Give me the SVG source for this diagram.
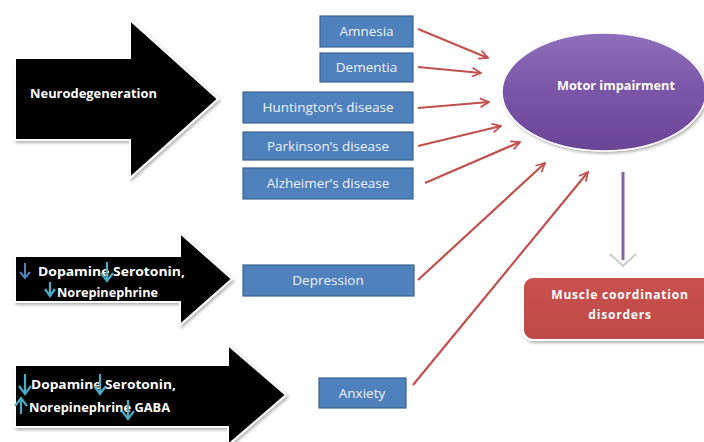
<svg xmlns="http://www.w3.org/2000/svg" width="704" height="442" viewBox="0 0 704 442">
<style>
.bigarrow{fill:#000;stroke:#fff;stroke-width:2;filter:url(#sh)}
.box{fill:#4f81bd;stroke:#3a6391;stroke-width:1.2}
.boxt{font-family:"Open Sans","Liberation Sans",Arial,sans-serif;font-size:13.5px;fill:#eef3fa;text-anchor:middle}
.wt{font-family:"Open Sans","Liberation Sans",Arial,sans-serif;font-weight:bold;fill:#fff}
.conn{stroke:#c0504d;stroke-width:2.2;fill:none;marker-end:url(#ah)}
</style>
<defs>
<marker id="ah" viewBox="0 0 10 10" refX="9" refY="5" markerWidth="5" markerHeight="5" orient="auto" markerUnits="strokeWidth">
<path d="M1,1 L9,5 L1,9" fill="none" stroke="#c0504d" stroke-width="1.6"/>
</marker>
<filter id="sh" x="-10%" y="-10%" width="130%" height="130%">
<feDropShadow dx="1.5" dy="2" stdDeviation="1.5" flood-color="#000" flood-opacity="0.3"/>
</filter>
<linearGradient id="pg" x1="0" y1="0" x2="0" y2="1">
<stop offset="0" stop-color="#8f6fbb"/>
<stop offset="0.5" stop-color="#7a55a8"/>
<stop offset="1" stop-color="#6a4496"/>
</linearGradient>
<linearGradient id="rg" x1="0" y1="0" x2="0" y2="1">
<stop offset="0" stop-color="#c9514f"/>
<stop offset="1" stop-color="#bd4a47"/>
</linearGradient>
</defs>

<g id="neurodegeneration">
<polygon class="bigarrow" points="15,58 130,58 130,20 218,99 130,178 130,140 15,140"/>
<text class="wt" x="30" y="98" font-size="11.5" textLength="127" lengthAdjust="spacingAndGlyphs">Neurodegeneration</text>
</g>

<g id="depression-cause">
<polygon class="bigarrow" points="15,256 180,256 180,233 232,279 180,325 180,302 15,302"/>
<text class="wt" x="38" y="276" font-size="11.5" textLength="147" lengthAdjust="spacingAndGlyphs">Dopamine Serotonin,</text>
<text class="wt" x="57" y="297" font-size="11.5" textLength="101" lengthAdjust="spacingAndGlyphs">Norepinephrine</text>
<path d="M25,263 V277 M20,272 L25,278 L30,272" stroke="#4f81bd" stroke-width="2" fill="none"/>
<path d="M107,262 V280 M101,273 L107,281 L113,273" stroke="#4bacc6" stroke-width="2.2" fill="none"/>
<path d="M50,282 V295 M45,289 L50,296 L55,289" stroke="#4bacc6" stroke-width="2.2" fill="none"/>
</g>

<g id="anxiety-cause">
<polygon class="bigarrow" points="15,365 228,365 228,345 286,395 228,445 228,427 15,427"/>
<text class="wt" x="31" y="389" font-size="11.5" textLength="145" lengthAdjust="spacingAndGlyphs">Dopamine Serotonin,</text>
<text class="wt" x="29" y="412" font-size="11.5" textLength="141" lengthAdjust="spacingAndGlyphs">Norepinephrine GABA</text>
<path d="M25,374 V393 M19,386 L25,394 L31,386" stroke="#4bacc6" stroke-width="2.2" fill="none"/>
<path d="M100,374 V393 M94,386 L100,394 L106,386" stroke="#4bacc6" stroke-width="2.2" fill="none"/>
<path d="M21,414 V399 M15,406 L21,398 L27,406" stroke="#4bacc6" stroke-width="2.2" fill="none"/>
<path d="M128,400 V418 M122,411 L128,419 L134,411" stroke="#4bacc6" stroke-width="2.2" fill="none"/>
</g>

<g id="amnesia"><rect class="box" x="320" y="16" width="93" height="31"/><text class="boxt" x="366.5" y="36">Amnesia</text></g>
<g id="dementia"><rect class="box" x="320" y="53" width="93" height="29"/><text class="boxt" x="366.5" y="72">Dementia</text></g>
<g id="huntington"><rect class="box" x="243" y="92" width="170" height="31"/><text class="boxt" x="328" y="112">Huntington’s disease</text></g>
<g id="parkinson"><rect class="box" x="243" y="132" width="170" height="28"/><text class="boxt" x="328" y="151">Parkinson’s disease</text></g>
<g id="alzheimer"><rect class="box" x="243" y="168" width="170" height="31"/><text class="boxt" x="328" y="188">Alzheimer’s disease</text></g>
<g id="depression"><rect class="box" x="243" y="265" width="171" height="31"/><text class="boxt" x="328" y="285">Depression</text></g>
<g id="anxiety"><rect class="box" x="319" y="378" width="87" height="30"/><text class="boxt" x="362" y="398">Anxiety</text></g>

<g id="motor-impairment">
<ellipse cx="604" cy="92" rx="102" ry="59" fill="url(#pg)" stroke="#fff" stroke-width="1.5" filter="url(#sh)"/>
<text class="wt" x="616" y="90" font-size="12" text-anchor="middle" textLength="118" lengthAdjust="spacingAndGlyphs">Motor impairment</text>
</g>

<g id="muscle-coordination">
<rect x="523" y="277" width="195" height="63" rx="10" fill="url(#rg)" stroke="#fff" stroke-width="2" filter="url(#sh)"/>
<text class="wt" x="620" y="299" font-size="12" text-anchor="middle" fill="#f4e0df" letter-spacing="0.8">Muscle coordination</text>
<text class="wt" x="620" y="319" font-size="12" text-anchor="middle" fill="#f4e0df" letter-spacing="0.8">disorders</text>
</g>

<g id="connectors">
<line class="conn" x1="418" y1="29" x2="488" y2="58"/>
<line class="conn" x1="418" y1="67" x2="481" y2="73"/>
<line class="conn" x1="418" y1="108" x2="489" y2="102"/>
<line class="conn" x1="418" y1="146" x2="501" y2="126"/>
<line class="conn" x1="425" y1="183" x2="520" y2="142"/>
<line class="conn" x1="418" y1="280" x2="545" y2="163"/>
<line class="conn" x1="413" y1="385" x2="588" y2="172"/>
<line x1="623" y1="172" x2="623" y2="260" stroke="#8064a2" stroke-width="3"/>
<polyline points="610,254 623,266 636,254" fill="none" stroke="#c9c9c9" stroke-width="2"/>
</g>
</svg>
